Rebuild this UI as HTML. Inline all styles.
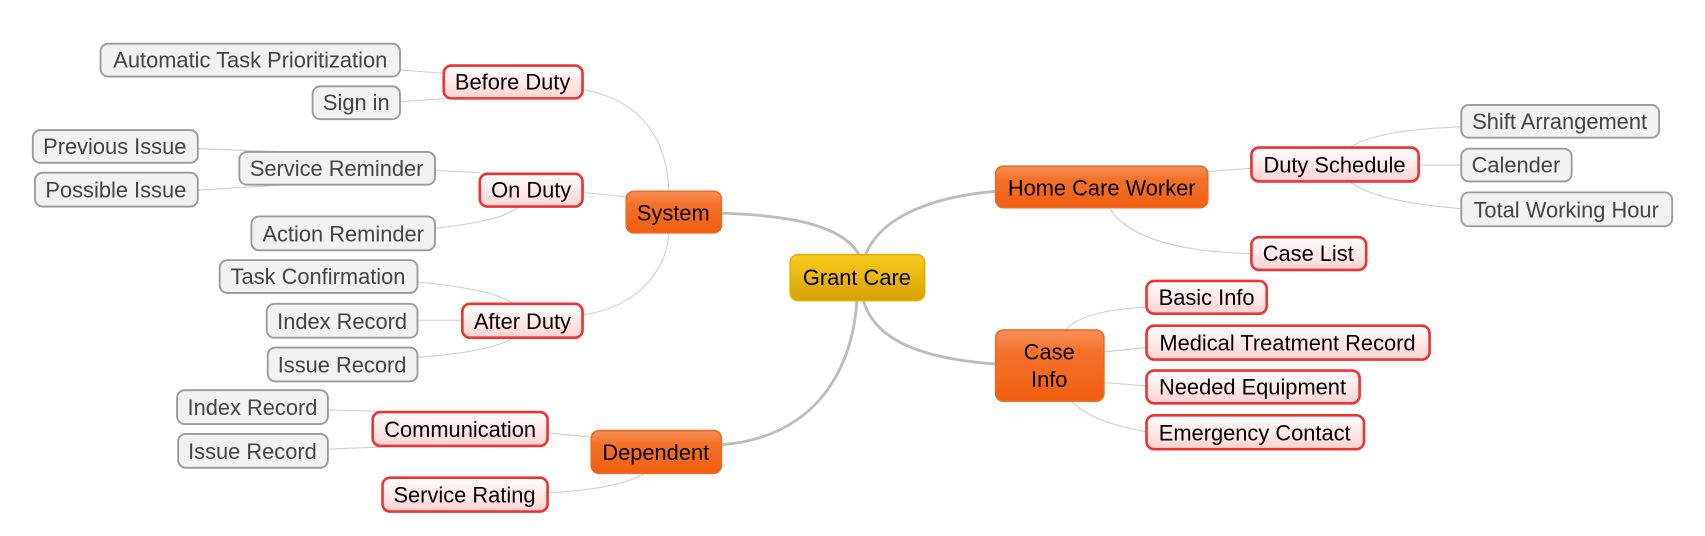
<!DOCTYPE html>
<html><head><meta charset="utf-8"><style>
html,body{margin:0;padding:0;background:#fff;}
svg{display:block;}
text{font-family:"Liberation Sans",sans-serif;font-size:20px;text-anchor:middle;dominant-baseline:central;}
.g rect{fill:#f2f2f2;stroke:#9a9a9a;stroke-width:1.7;}
.g text{fill:#444;}
.r rect{fill:url(#rg);stroke:#ee3333;stroke-width:2.4;}
.r text{fill:#000;}
.o rect{fill:url(#og);stroke:#ec6a22;stroke-width:1.5;}
.o text{fill:#000;}
.y rect{fill:url(#yg);stroke:#e0b000;stroke-width:1.5;}
.thin{fill:none;stroke:#cfcfcf;stroke-width:1;}
.thick{fill:none;stroke:#bdbdbd;stroke-width:2.6;}
</style></head><body>
<svg width="1705" height="536" viewBox="0 0 1560 490.4" xmlns="http://www.w3.org/2000/svg">
<defs>
<linearGradient id="rg" x1="0" y1="0" x2="0" y2="1"><stop offset="0" stop-color="#ffffff"/><stop offset="1" stop-color="#fdd3d3"/></linearGradient>
<linearGradient id="og" x1="0" y1="0" x2="0" y2="1"><stop offset="0" stop-color="#f7905a"/><stop offset="0.3" stop-color="#f4722a"/><stop offset="1" stop-color="#f15e10"/></linearGradient>
<linearGradient id="yg" x1="0" y1="0" x2="0" y2="1"><stop offset="0" stop-color="#f8cc20"/><stop offset="1" stop-color="#d8a000"/></linearGradient>
</defs>
<path class="thick" d="M786 233 C770 205 720 197 660 195"/>
<path class="thick" d="M792 233 C805 200 850 180 911 175"/>
<path class="thick" d="M784 275 C780 340 745 400 660 407"/>
<path class="thick" d="M790 275 C800 310 840 328 911 333"/>
<path class="thin" d="M612 175 C610 120 580 90 533 82"/>
<path class="thin" d="M612 213 C610 250 580 282 533 288"/>
<path class="thin" d="M573 180 L533 176"/>
<path class="thin" d="M406 67 L366 64"/>
<path class="thin" d="M410 90 L366 93"/>
<path class="thin" d="M439 158 L398 156"/>
<path class="thin" d="M475 189 C465 198 440 204 398 209"/>
<path class="thin" d="M262 139 L181 136"/>
<path class="thin" d="M262 169 L181 174"/>
<path class="thin" d="M470 278 C455 268 430 263 382 258"/>
<path class="thin" d="M423 293 L382 293"/>
<path class="thin" d="M470 309 C455 318 430 323 382 327"/>
<path class="thin" d="M541 400 L501 396"/>
<path class="thin" d="M590 433 C575 442 550 448 501 451"/>
<path class="thin" d="M372 377 L300 375"/>
<path class="thin" d="M372 408 L300 411"/>
<path class="thin" d="M1105 157 L1145 154"/>
<path class="thin" d="M1015 190 C1030 215 1070 230 1145 232"/>
<path class="thin" d="M1235 135 C1250 125 1280 118 1337 116"/>
<path class="thin" d="M1298 151 L1337 151"/>
<path class="thin" d="M1235 166 C1250 178 1280 186 1337 191"/>
<path class="thin" d="M975 302 C985 290 1010 283 1049 281"/>
<path class="thin" d="M1010 322 L1049 318"/>
<path class="thin" d="M1010 350 L1049 353"/>
<path class="thin" d="M980 367 C995 382 1020 390 1049 395"/>
<g class="g">
<rect x="92" y="40" width="274" height="30" rx="7"/><text x="229" y="55">Automatic Task Prioritization</text>
<rect x="286" y="79" width="80" height="30" rx="7"/><text x="326" y="94">Sign in</text>
<rect x="30" y="119" width="151" height="30" rx="7"/><text x="105" y="134">Previous Issue</text>
<rect x="219" y="139" width="179" height="30" rx="7"/><text x="308" y="154">Service Reminder</text>
<rect x="32" y="158" width="149" height="31" rx="7"/><text x="106" y="174">Possible Issue</text>
<rect x="230" y="198" width="168" height="31" rx="7"/><text x="314" y="214">Action Reminder</text>
<rect x="201" y="238" width="181" height="30" rx="7"/><text x="291" y="253">Task Confirmation</text>
<rect x="244" y="278" width="138" height="31" rx="7"/><text x="313" y="294">Index Record</text>
<rect x="245" y="318" width="137" height="31" rx="7"/><text x="313" y="334">Issue Record</text>
<rect x="162" y="357" width="138" height="31" rx="7"/><text x="231" y="373">Index Record</text>
<rect x="163" y="397" width="137" height="31" rx="7"/><text x="231" y="413">Issue Record</text>
<rect x="1337" y="96" width="181" height="30" rx="7"/><text x="1427" y="111">Shift Arrangement</text>
<rect x="1337" y="136" width="101" height="30" rx="7"/><text x="1387" y="151">Calender</text>
<rect x="1337" y="176" width="193" height="31" rx="7"/><text x="1433" y="192">Total Working Hour</text>
</g>
<g class="r">
<rect x="406" y="60" width="127" height="30" rx="7"/><text x="469" y="75">Before Duty</text>
<rect x="439" y="159" width="94" height="30" rx="7"/><text x="486" y="174">On Duty</text>
<rect x="423" y="278" width="110" height="31" rx="7"/><text x="478" y="294">After Duty</text>
<rect x="341" y="377" width="160" height="31" rx="7"/><text x="421" y="393">Communication</text>
<rect x="350" y="437" width="151" height="31" rx="7"/><text x="425" y="453">Service Rating</text>
<rect x="1145" y="135" width="153" height="31" rx="7"/><text x="1221" y="151">Duty Schedule</text>
<rect x="1145" y="217" width="105" height="30" rx="7"/><text x="1197" y="232">Case List</text>
<rect x="1049" y="257" width="110" height="30" rx="7"/><text x="1104" y="272">Basic Info</text>
<rect x="1049" y="298" width="259" height="31" rx="7"/><text x="1178" y="314">Medical Treatment Record</text>
<rect x="1049" y="339" width="195" height="30" rx="7"/><text x="1146" y="354">Needed Equipment</text>
<rect x="1049" y="380" width="199" height="31" rx="7"/><text x="1148" y="396">Emergency Contact</text>
</g>
<g class="o">
<rect x="573" y="175" width="87" height="38" rx="7"/><text x="616" y="195">System</text>
<rect x="541" y="394" width="119" height="39" rx="7"/><text x="600" y="414">Dependent</text>
<rect x="911" y="152" width="194" height="38" rx="7"/><text x="1008" y="172">Home Care Worker</text>
<rect x="911" y="302" width="99" height="65" rx="7"/><text x="960" y="322">Case</text><text x="960" y="347">Info</text>
</g>
<g class="y">
<rect x="723" y="233" width="123" height="42" rx="7"/><text x="784" y="254" fill="#000">Grant Care</text>
</g>
</svg>
</body></html>
